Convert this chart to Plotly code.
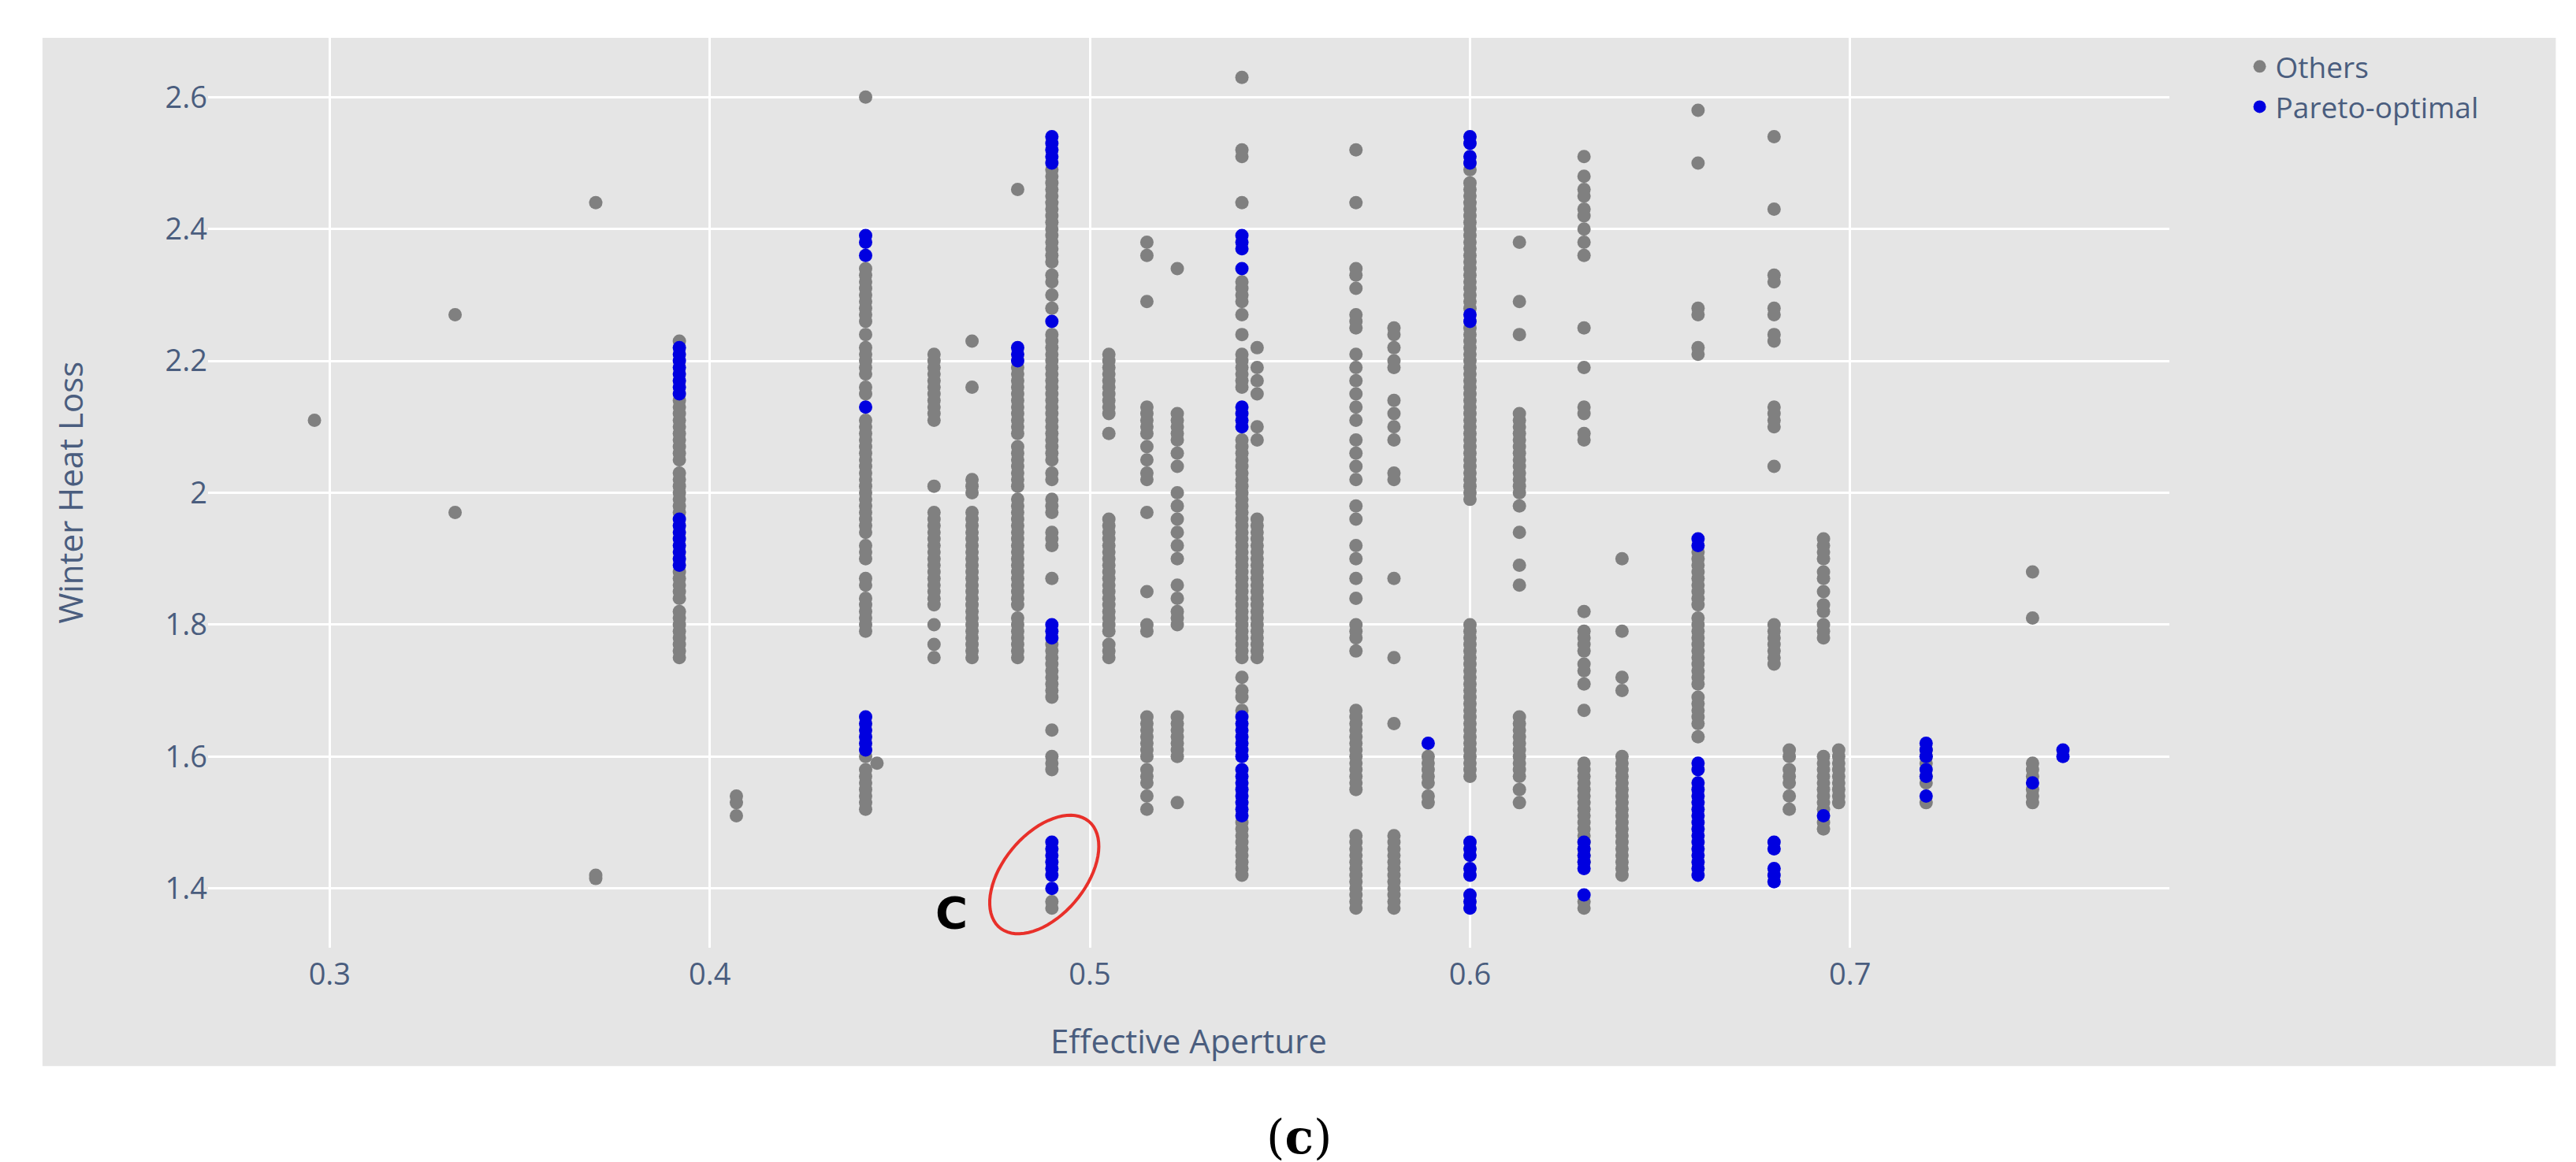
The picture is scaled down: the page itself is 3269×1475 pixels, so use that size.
import numpy as np
import plotly.graph_objects as go

# ---- data: (x, gray "Others" y values, blue "Pareto-optimal" y values) ----
def v(s):
    return [float(t) for t in s.split()]

x_cols = [0.296, 0.333, 0.370, 0.392, 0.407, 0.441, 0.444, 0.459, 0.469, 0.481,
          0.490, 0.505, 0.515, 0.523, 0.540, 0.544, 0.570, 0.580, 0.589, 0.600,
          0.613, 0.630, 0.640, 0.660, 0.680, 0.684, 0.693, 0.697, 0.720, 0.748, 0.756]

others_y = [
    v("2.11"),
    v("2.27 1.97"),
    v("2.44 1.42 1.415"),
    v("1.75 1.76 1.77 1.78 1.79 1.80 1.81 1.82 1.84 1.85 1.86 1.87 1.88 1.97 1.98 1.99 2.00 2.01 2.02 2.03 2.05 2.06 2.07 2.08 2.09 2.10 2.11 2.12 2.13 2.14 2.23"),
    v("1.51 1.53 1.54"),
    v("2.60 2.34 2.33 2.32 2.31 2.30 2.29 2.28 2.27 2.26 2.24 2.22 2.21 2.20 2.19 2.18 2.16 2.15 2.11 2.10 2.09 2.08 2.07 2.06 2.05 2.04 2.03 2.02 2.01 2.00 1.99 1.98 1.97 1.96 1.95 1.94 1.92 1.91 1.90 1.87 1.86 1.84 1.83 1.82 1.81 1.80 1.79 1.60 1.58 1.57 1.56 1.55 1.54 1.53 1.52"),
    v("1.59"),
    v("2.21 2.20 2.19 2.18 2.17 2.16 2.15 2.14 2.13 2.12 2.11 2.01 1.97 1.96 1.95 1.94 1.93 1.92 1.91 1.90 1.89 1.88 1.87 1.86 1.85 1.84 1.83 1.80 1.77 1.75"),
    v("2.23 2.16 2.02 2.01 2.00 1.97 1.96 1.95 1.94 1.93 1.92 1.91 1.90 1.89 1.88 1.87 1.86 1.85 1.84 1.83 1.82 1.81 1.80 1.79 1.78 1.77 1.76 1.75"),
    v("2.46 2.19 2.18 2.17 2.16 2.15 2.14 2.13 2.12 2.11 2.10 2.09 2.07 2.06 2.05 2.04 2.03 2.02 2.01 1.99 1.98 1.97 1.96 1.95 1.94 1.93 1.92 1.91 1.90 1.89 1.88 1.87 1.86 1.85 1.84 1.83 1.81 1.80 1.79 1.78 1.77 1.76 1.75"),
    v("2.49 2.48 2.47 2.46 2.45 2.44 2.43 2.42 2.41 2.40 2.39 2.38 2.37 2.36 2.35 2.33 2.32 2.30 2.28 2.24 2.23 2.22 2.21 2.20 2.19 2.18 2.17 2.16 2.15 2.14 2.13 2.12 2.11 2.10 2.09 2.08 2.07 2.06 2.05 2.03 2.02 1.99 1.98 1.97 1.94 1.93 1.92 1.87 1.77 1.76 1.75 1.74 1.73 1.72 1.71 1.70 1.69 1.64 1.60 1.59 1.58 1.38 1.37"),
    v("2.21 2.20 2.19 2.18 2.17 2.16 2.15 2.14 2.13 2.12 2.09 1.96 1.95 1.94 1.93 1.92 1.91 1.90 1.89 1.88 1.87 1.86 1.85 1.84 1.83 1.82 1.81 1.80 1.79 1.77 1.76 1.75"),
    v("2.38 2.36 2.29 2.13 2.12 2.11 2.10 2.09 2.07 2.05 2.03 2.02 1.97 1.85 1.80 1.79 1.66 1.65 1.64 1.63 1.62 1.61 1.60 1.58 1.57 1.56 1.54 1.52"),
    v("2.34 2.12 2.11 2.10 2.09 2.08 2.06 2.04 2.00 1.98 1.96 1.94 1.92 1.90 1.86 1.84 1.82 1.81 1.80 1.66 1.65 1.64 1.63 1.62 1.61 1.60 1.53"),
    v("2.63 2.52 2.51 2.44 2.32 2.31 2.30 2.29 2.27 2.24 2.21 2.20 2.19 2.18 2.17 2.16 2.08 2.07 2.06 2.05 2.04 2.03 2.02 2.01 2.00 1.99 1.98 1.97 1.96 1.95 1.94 1.93 1.92 1.91 1.90 1.89 1.88 1.87 1.86 1.85 1.84 1.83 1.82 1.81 1.80 1.79 1.78 1.77 1.76 1.75 1.72 1.70 1.69 1.67 1.50 1.49 1.48 1.47 1.46 1.45 1.44 1.43 1.42"),
    v("2.22 2.19 2.17 2.15 2.10 2.08 1.96 1.95 1.94 1.93 1.92 1.91 1.90 1.89 1.88 1.87 1.86 1.85 1.84 1.83 1.82 1.81 1.80 1.79 1.78 1.77 1.76 1.75"),
    v("2.52 2.44 2.34 2.33 2.31 2.27 2.26 2.25 2.21 2.19 2.17 2.15 2.13 2.11 2.08 2.06 2.04 2.02 1.98 1.96 1.92 1.90 1.87 1.84 1.80 1.79 1.78 1.76 1.67 1.66 1.65 1.64 1.63 1.62 1.61 1.60 1.59 1.58 1.57 1.56 1.55 1.48 1.47 1.46 1.45 1.44 1.43 1.42 1.41 1.40 1.39 1.38 1.37"),
    v("2.25 2.24 2.22 2.20 2.19 2.14 2.12 2.10 2.08 2.03 2.02 1.87 1.75 1.65 1.48 1.47 1.46 1.45 1.44 1.43 1.42 1.41 1.40 1.39 1.38 1.37"),
    v("1.60 1.59 1.58 1.57 1.56 1.54 1.53"),
    v("2.49 2.47 2.46 2.45 2.44 2.43 2.42 2.41 2.40 2.39 2.38 2.37 2.36 2.35 2.34 2.33 2.32 2.31 2.30 2.29 2.28 2.25 2.24 2.23 2.22 2.21 2.20 2.19 2.18 2.17 2.16 2.15 2.14 2.13 2.12 2.11 2.10 2.09 2.08 2.07 2.06 2.05 2.04 2.03 2.02 2.01 2.00 1.99 1.80 1.79 1.78 1.77 1.76 1.75 1.74 1.73 1.72 1.71 1.70 1.69 1.68 1.67 1.66 1.65 1.64 1.63 1.62 1.61 1.60 1.59 1.58 1.57"),
    v("2.38 2.29 2.24 2.12 2.11 2.10 2.09 2.08 2.07 2.06 2.05 2.04 2.03 2.02 2.01 2.00 1.98 1.94 1.89 1.86 1.66 1.65 1.64 1.63 1.62 1.61 1.60 1.59 1.58 1.57 1.55 1.53"),
    v("2.51 2.48 2.46 2.45 2.43 2.42 2.40 2.38 2.36 2.25 2.19 2.13 2.12 2.09 2.08 1.82 1.79 1.78 1.77 1.76 1.74 1.73 1.71 1.67 1.59 1.58 1.57 1.56 1.55 1.54 1.53 1.52 1.51 1.50 1.49 1.48 1.47 1.46 1.45 1.44 1.38 1.37"),
    v("1.90 1.79 1.72 1.70 1.60 1.59 1.58 1.57 1.56 1.55 1.54 1.53 1.52 1.51 1.50 1.49 1.48 1.47 1.46 1.45 1.44 1.43 1.42"),
    v("2.58 2.50 2.28 2.27 2.22 2.21 1.91 1.90 1.89 1.88 1.87 1.86 1.85 1.84 1.83 1.81 1.80 1.79 1.78 1.77 1.76 1.75 1.74 1.73 1.72 1.71 1.69 1.68 1.67 1.66 1.65 1.63"),
    v("2.54 2.43 2.33 2.32 2.28 2.27 2.24 2.23 2.13 2.12 2.11 2.10 2.04 1.80 1.79 1.78 1.77 1.76 1.75 1.74"),
    v("1.61 1.60 1.58 1.57 1.56 1.54 1.52"),
    v("1.93 1.92 1.91 1.90 1.88 1.87 1.85 1.83 1.82 1.80 1.79 1.78 1.60 1.59 1.58 1.57 1.56 1.55 1.54 1.53 1.52 1.50 1.49"),
    v("1.61 1.60 1.59 1.58 1.57 1.56 1.55 1.54 1.53"),
    v("1.61 1.60 1.59 1.57 1.56 1.53"),
    v("1.88 1.81 1.59 1.58 1.57 1.55 1.54 1.53"),
    v(""),
]

pareto_y = [
    v(""), v(""), v(""),
    v("2.22 2.21 2.20 2.19 2.18 2.17 2.16 2.15 1.96 1.95 1.94 1.93 1.92 1.91 1.90 1.89"),
    v(""),
    v("2.39 2.38 2.36 2.13 1.66 1.65 1.64 1.63 1.62 1.61"),
    v(""), v(""), v(""),
    v("2.22 2.21 2.20"),
    v("2.54 2.53 2.52 2.51 2.50 2.26 1.80 1.79 1.78 1.47 1.46 1.45 1.44 1.43 1.42 1.40"),
    v(""), v(""), v(""),
    v("2.39 2.38 2.37 2.34 2.13 2.12 2.11 2.10 1.66 1.65 1.64 1.63 1.62 1.61 1.60 1.58 1.57 1.56 1.55 1.54 1.53 1.52 1.51"),
    v(""), v(""), v(""),
    v("1.62"),
    v("2.54 2.53 2.51 2.50 2.27 2.26 1.47 1.46 1.45 1.43 1.42 1.39 1.38 1.37"),
    v(""),
    v("1.47 1.46 1.45 1.44 1.43 1.39"),
    v(""),
    v("1.93 1.92 1.59 1.58 1.56 1.55 1.54 1.53 1.52 1.51 1.50 1.49 1.48 1.47 1.46 1.45 1.44 1.43 1.42"),
    v("1.47 1.46 1.43 1.42 1.41"),
    v(""),
    v("1.51"),
    v(""),
    v("1.62 1.61 1.60 1.58 1.57 1.54"),
    v("1.56"),
    v("1.61 1.60"),
]

ox, oy, px, py = [], [], [], []
for x, g, b in zip(x_cols, others_y, pareto_y):
    ox += [x] * len(g); oy += g
    px += [x] * len(b); py += b

FONT = "Open Sans"
TXT = "#4a5d7e"

# tilted red ellipse around group C (half-axes given in screen pixels)
t = np.linspace(0, 2 * np.pi, 72)
a_px, b_px, ang = 88, 52, np.deg2rad(50)
cx, cy = 0.488, 1.421
kx, ky = 4820.0, 837.0          # screen pixels per data unit
ex = cx + (a_px * np.cos(t) * np.cos(ang) - b_px * np.sin(t) * np.sin(ang)) / kx
ey = cy + (a_px * np.cos(t) * np.sin(ang) + b_px * np.sin(t) * np.cos(ang)) / ky
path = "M " + " L ".join(f"{x:.5f},{y:.5f}" for x, y in zip(ex, ey)) + " Z"

fig = go.Figure()
fig.add_trace(go.Scatter(x=ox, y=oy, mode="markers", name="Others",
                         marker=dict(color="#808080", size=17)))
fig.add_trace(go.Scatter(x=px, y=py, mode="markers", name="Pareto-optimal",
                         marker=dict(color="#0000e0", size=17)))

W, H = 3269, 1475
fig.update_layout(
    width=W, height=H,
    margin=dict(l=256, r=524, t=40, b=280),
    paper_bgcolor="white", plot_bgcolor="#e5e5e5",
    font=dict(family=FONT, size=38, color=TXT),
    legend=dict(x=1.038, y=0.995, xanchor="left", yanchor="top", bgcolor="rgba(0,0,0,0)",
                font=dict(size=37, color=TXT)),
    shapes=[
        dict(type="rect", xref="paper", yref="paper", x0=-0.0844, x1=1.197, y0=-0.13, y1=1.0,
             fillcolor="#e5e5e5", line_width=0, layer="below"),
        dict(type="path", xref="x", yref="y", path=path,
             line=dict(color="#e8302a", width=4)),
    ],
    annotations=[
        dict(text="Winter Heat Loss", xref="paper", yref="paper", x=-0.0707, y=0.5,
             xanchor="center", yanchor="middle",
             textangle=-90, showarrow=False, font=dict(size=42, color=TXT)),
        dict(text="Effective Aperture", xref="paper", yref="paper", x=0.5, y=-0.102,
             yanchor="middle", showarrow=False, font=dict(size=42, color=TXT)),
        dict(text="<b>C</b>", xref="x", yref="y", x=0.4637, y=1.363, showarrow=False,
             font=dict(size=56, color="black", family="DejaVu Sans")),
        dict(text="(<b>c</b>)", xref="paper", yref="paper", x=0.5563, y=-0.208,
             yanchor="middle", showarrow=False,
             font=dict(size=60, color="black", family="DejaVu Serif")),
    ],
)
fig.update_xaxes(range=[0.268, 0.784], dtick=0.1, gridcolor="white", gridwidth=3,
                 zeroline=False, showline=False, ticklabelstandoff=8,
                 tickfont=dict(size=38, color=TXT))
fig.update_yaxes(range=[1.31, 2.69], tickvals=[1.4, 1.6, 1.8, 2.0, 2.2, 2.4, 2.6],
                 ticktext=["1.4", "1.6", "1.8", "2", "2.2", "2.4", "2.6"],
                 gridcolor="white", gridwidth=3, zeroline=False, showline=False,
                 tickfont=dict(size=38, color=TXT))

fig.write_html("out.html")
